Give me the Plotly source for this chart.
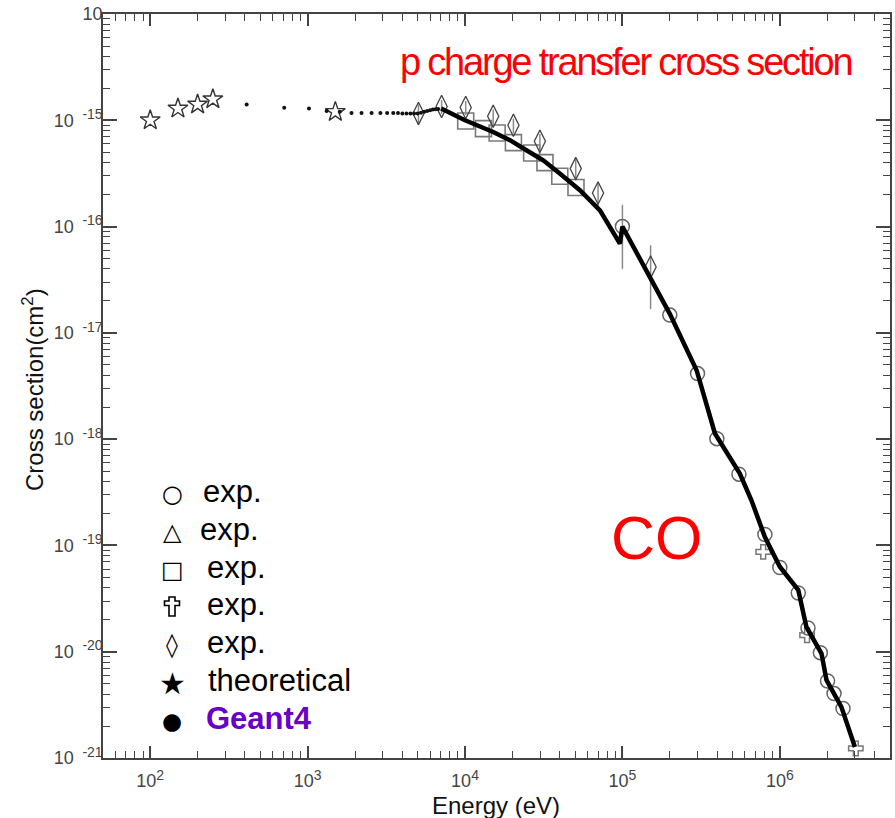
import numpy as np
import plotly.graph_objects as go

# ---------------- data ----------------
theory_E = [100, 150, 200, 250, 1500]
theory_sigma = [1.0e-15, 1.29e-15, 1.41e-15, 1.58e-15, 1.2e-15]

g4_dot_E = [410, 710, 1020, 1320, 1600, 1900, 2200, 2550, 2900, 3200, 3500, 3750,
            4000, 4250, 4500, 4750, 5000, 5250, 5500, 5750, 6000, 6250, 6500, 6750]
g4_dot_sigma = [1.41e-15, 1.31e-15, 1.29e-15, 1.22e-15, 1.2e-15, 1.17e-15, 1.17e-15,
                1.17e-15, 1.17e-15, 1.17e-15, 1.17e-15, 1.17e-15, 1.16e-15, 1.16e-15,
                1.16e-15, 1.16e-15, 1.16e-15, 1.18e-15, 1.2e-15, 1.22e-15, 1.24e-15,
                1.26e-15, 1.27e-15, 1.28e-15]

g4_line_E = [7050, 1.0e4, 1.51e4, 1.93e4, 2.47e4, 3.14e4, 4.0e4, 5.37e4, 7.2e4, 9.64e4,
             1.0e5, 1.5e5, 2.0e5, 2.96e5, 3.87e5, 5.57e5, 6.6e5, 8.04e5, 1.0e6, 1.31e6,
             1.475e6, 1.84e6, 1.98e6, 2.46e6, 3.0e6]
g4_line_sigma = [1.29e-15, 1.0e-15, 7.76e-16, 6.5e-16, 5.2e-16, 4.2e-16, 3.15e-16, 2.2e-16,
                 1.42e-16, 6.9e-17, 1.0e-16, 3.36e-17, 1.51e-17, 4.45e-18, 1.13e-18,
                 4.74e-19, 2.66e-19, 1.2e-19, 6.3e-20, 3.8e-20, 1.71e-20, 9.6e-21,
                 5.4e-21, 3.03e-21, 1.27e-21]

circ_E = [1.0e5, 2.0e5, 3.0e5, 3.98e5, 5.5e5, 8.04e5, 1.0e6, 1.31e6, 1.51e6, 1.81e6,
          2.01e6, 2.21e6, 2.52e6]
circ_sigma = [1.0e-16, 1.47e-17, 4.14e-18, 1.01e-18, 4.68e-19, 1.27e-19, 6.2e-20,
              3.57e-20, 1.67e-20, 9.8e-21, 5.3e-21, 4.04e-21, 2.92e-21]
circ_err = [0.6e-16, 0, 0, 0, 0, 0, 0, 0, 0, 0, 0, 0, 0]

cross_E = [7.84e5, 1.49e6, 3.04e6]
cross_sigma = [8.7e-20, 1.43e-20, 1.23e-21]

sq_E = [1.01e4, 1.31e4, 1.6e4, 2.03e4, 2.65e4, 3.22e4, 4.0e4, 5.07e4]
sq_sigma = [9.85e-16, 8.35e-16, 7.6e-16, 6.17e-16, 4.93e-16, 4.0e-16, 2.97e-16, 2.33e-16]

dia_E = [5.06e3, 7.1e3, 1.01e4, 1.51e4, 2.03e4, 2.99e4, 5.05e4, 7.0e4, 1.51e5]
dia_sigma = [1.16e-15, 1.35e-15, 1.32e-15, 1.09e-15, 8.97e-16, 6.34e-16, 3.51e-16,
             2.07e-16, 4.17e-17]
dia_err = [0.25e-15, 0.2e-15, 0.2e-15, 0.17e-15, 1.4e-16, 1.1e-16, 0.8e-16, 0.55e-16, 2.5e-17]

x_major = [1e2, 1e3, 1e4, 1e5, 1e6]
x_exponents = [2, 3, 4, 5, 6]
y_exponents = [-21, -20, -19, -18, -17, -16, -15, -14]

legend_symbols = ["\u25CB", "\u25B3", "\u25A1", "", "\u25CA", "\u2605", "\u25CF"]
legend_labels = ["exp.", "exp.", "exp.", "exp.", "exp.", "theoretical", "<b>Geant4</b>"]
legend_colors = ["#000", "#000", "#000", "#000", "#000", "#000", "#6a00c8"]

# ---------------- styling ----------------
FONT = "Liberation Sans, Arial, sans-serif"
AX = "#444444"
L, R, T, B = 103, 5, 14, 60
W, H = 895, 818
PW, PH = W - L - R, H - T - B


def px_x(p):
    return (p - L) / PW


def px_y(p):
    return (H - B - p) / PH


def sup(e):
    return "<sup><span style='font-size:14px'>%d</span></sup>" % e


fig = go.Figure()

err_style = dict(type="data", visible=True, color="#8a8a8a", thickness=1.5, width=0)

fig.add_trace(go.Scatter(x=sq_E, y=sq_sigma, mode="markers", showlegend=False,
                         marker=dict(symbol="square-open", size=16, color="#7a7a7a",
                                     line=dict(width=1.6, color="#7a7a7a"))))
fig.add_trace(go.Scatter(x=dia_E, y=dia_sigma, mode="markers", showlegend=False,
                         error_y=dict(array=dia_err, **err_style),
                         marker=dict(symbol="diamond-tall-open", size=16, color="#444",
                                     line=dict(width=1.3, color="#444"))))
fig.add_trace(go.Scatter(x=circ_E, y=circ_sigma, mode="markers", showlegend=False,
                         error_y=dict(array=circ_err, **err_style),
                         marker=dict(symbol="circle-open", size=14, color="#666",
                                     line=dict(width=1.5, color="#666"))))
fig.add_trace(go.Scatter(x=cross_E, y=cross_sigma, mode="markers", showlegend=False,
                         marker=dict(symbol="cross-open", size=12, color="#777",
                                     line=dict(width=1.5, color="#777"))))
fig.add_trace(go.Scatter(x=theory_E, y=theory_sigma, mode="markers", showlegend=False,
                         marker=dict(symbol="star-open", size=15, color="#333",
                                     line=dict(width=1.4, color="#333"))))
fig.add_trace(go.Scatter(x=g4_dot_E, y=g4_dot_sigma, mode="markers", showlegend=False,
                         marker=dict(symbol="circle", size=4, color="#111")))
fig.add_trace(go.Scatter(x=g4_line_E, y=g4_line_sigma, mode="lines", showlegend=False,
                         line=dict(color="#000", width=4.5)))

x_minor = [m * 10 ** d for d in range(1, 7) for m in range(2, 10)
           if 50 <= m * 10 ** d <= 5e6]
x_text = ["10" + sup(e) for e in x_exponents]
y_major = [10.0 ** e for e in y_exponents]
y_text = ["10\u00a0\u2009" + sup(e) for e in y_exponents[:-1]] + ["10"]
y_minor = [m * 10.0 ** e for e in range(-21, -14) for m in range(2, 10)]

fig.update_layout(
    width=W, height=H,
    margin=dict(l=L, r=R, t=T, b=B),
    paper_bgcolor="white", plot_bgcolor="white",
    font=dict(family=FONT, color="#000"),
    showlegend=False,
    xaxis=dict(type="log", range=[1.70, 6.70], showgrid=False, zeroline=False,
               automargin=False,
               showline=True, linecolor=AX, linewidth=1.5, mirror="ticks",
               ticks="inside", ticklen=12, tickwidth=1.5, tickcolor=AX,
               tickmode="array", tickvals=x_major, ticktext=x_text,
               ticklabelstandoff=6,
               tickfont=dict(family=FONT, size=18, color=AX),
               minor=dict(tickmode="array", tickvals=x_minor, ticks="inside",
                          ticklen=7, tickwidth=1.3, tickcolor=AX, showgrid=False)),
    yaxis=dict(type="log", range=[-21, -14], showgrid=False, zeroline=False,
               automargin=False,
               showline=True, linecolor=AX, linewidth=1.5, mirror="ticks",
               ticks="inside", ticklen=14, tickwidth=1.5, tickcolor=AX,
               tickmode="array", tickvals=y_major, ticktext=y_text,
               ticklabelstandoff=-5,
               tickfont=dict(family=FONT, size=18, color=AX),
               minor=dict(tickmode="array", tickvals=y_minor, ticks="inside",
                          ticklen=7, tickwidth=1.3, tickcolor=AX, showgrid=False)),
)

# axis titles
fig.add_annotation(text="Energy (eV)", xref="paper", yref="paper",
                   x=px_x(496), y=px_y(805), xanchor="center", yanchor="middle",
                   showarrow=False, font=dict(family=FONT, size=24, color="#111"))
fig.add_annotation(text="Cross section(cm<sup>2</sup>)", xref="paper", yref="paper",
                   x=px_x(33), y=px_y(390), xanchor="center", yanchor="middle",
                   textangle=-90, showarrow=False,
                   font=dict(family=FONT, size=24, color="#111"))

# chart labels
fig.add_annotation(text="<span style='letter-spacing:-2.2px'>p charge transfer cross section</span>",
                   xref="paper", yref="paper",
                   x=px_x(853), y=px_y(62), xanchor="right", yanchor="middle",
                   showarrow=False, font=dict(family=FONT, size=38, color="#ff0000"))
fig.add_annotation(text="CO", xref="paper", yref="paper", x=px_x(657), y=px_y(538),
                   xanchor="center", yanchor="middle", showarrow=False,
                   font=dict(family=FONT, size=61, color="#ff0000"))

# legend (drawn as text keys)
row_y = [494, 532, 570, 607, 645, 683, 721]
text_x = [201, 198, 205, 205, 205, 206, 204]
sym_size = [24, 24, 24, 24, 24, 30, 23]
KEY_X = 172
for sym, lab, col, yy, tx, ss in zip(legend_symbols, legend_labels, legend_colors,
                                     row_y, text_x, sym_size):
    if sym:
        fig.add_annotation(text=sym, xref="paper", yref="paper", x=px_x(KEY_X),
                           y=px_y(yy), xanchor="center", yanchor="middle",
                           showarrow=False,
                           font=dict(family="DejaVu Sans", size=ss, color="#000"))
    fig.add_annotation(text=lab, xref="paper", yref="paper", x=px_x(tx), y=px_y(yy - 3),
                       xanchor="left", yanchor="middle", showarrow=False,
                       font=dict(family=FONT, size=31, color=col))

# outlined latin cross legend key (4th row)
cy = row_y[3]
outline = [(-3, -10), (3, -10), (3, -6), (7.5, -6), (7.5, -1.5), (3, -1.5), (3, 9),
           (-3, 9), (-3, -1.5), (-7.5, -1.5), (-7.5, -6), (-3, -6)]
path = "M " + " L ".join("%.5f %.5f" % (px_x(KEY_X + dx), px_y(cy + dy))
                         for dx, dy in outline) + " Z"
fig.add_shape(type="path", path=path, xref="paper", yref="paper",
              line=dict(color="#000", width=1.6), fillcolor="rgba(0,0,0,0)")

fig.write_html("out.html", config={"displayModeBar": False},
               post_script="document.body.style.margin='0';"
                           "document.body.style.overflow='hidden';")
